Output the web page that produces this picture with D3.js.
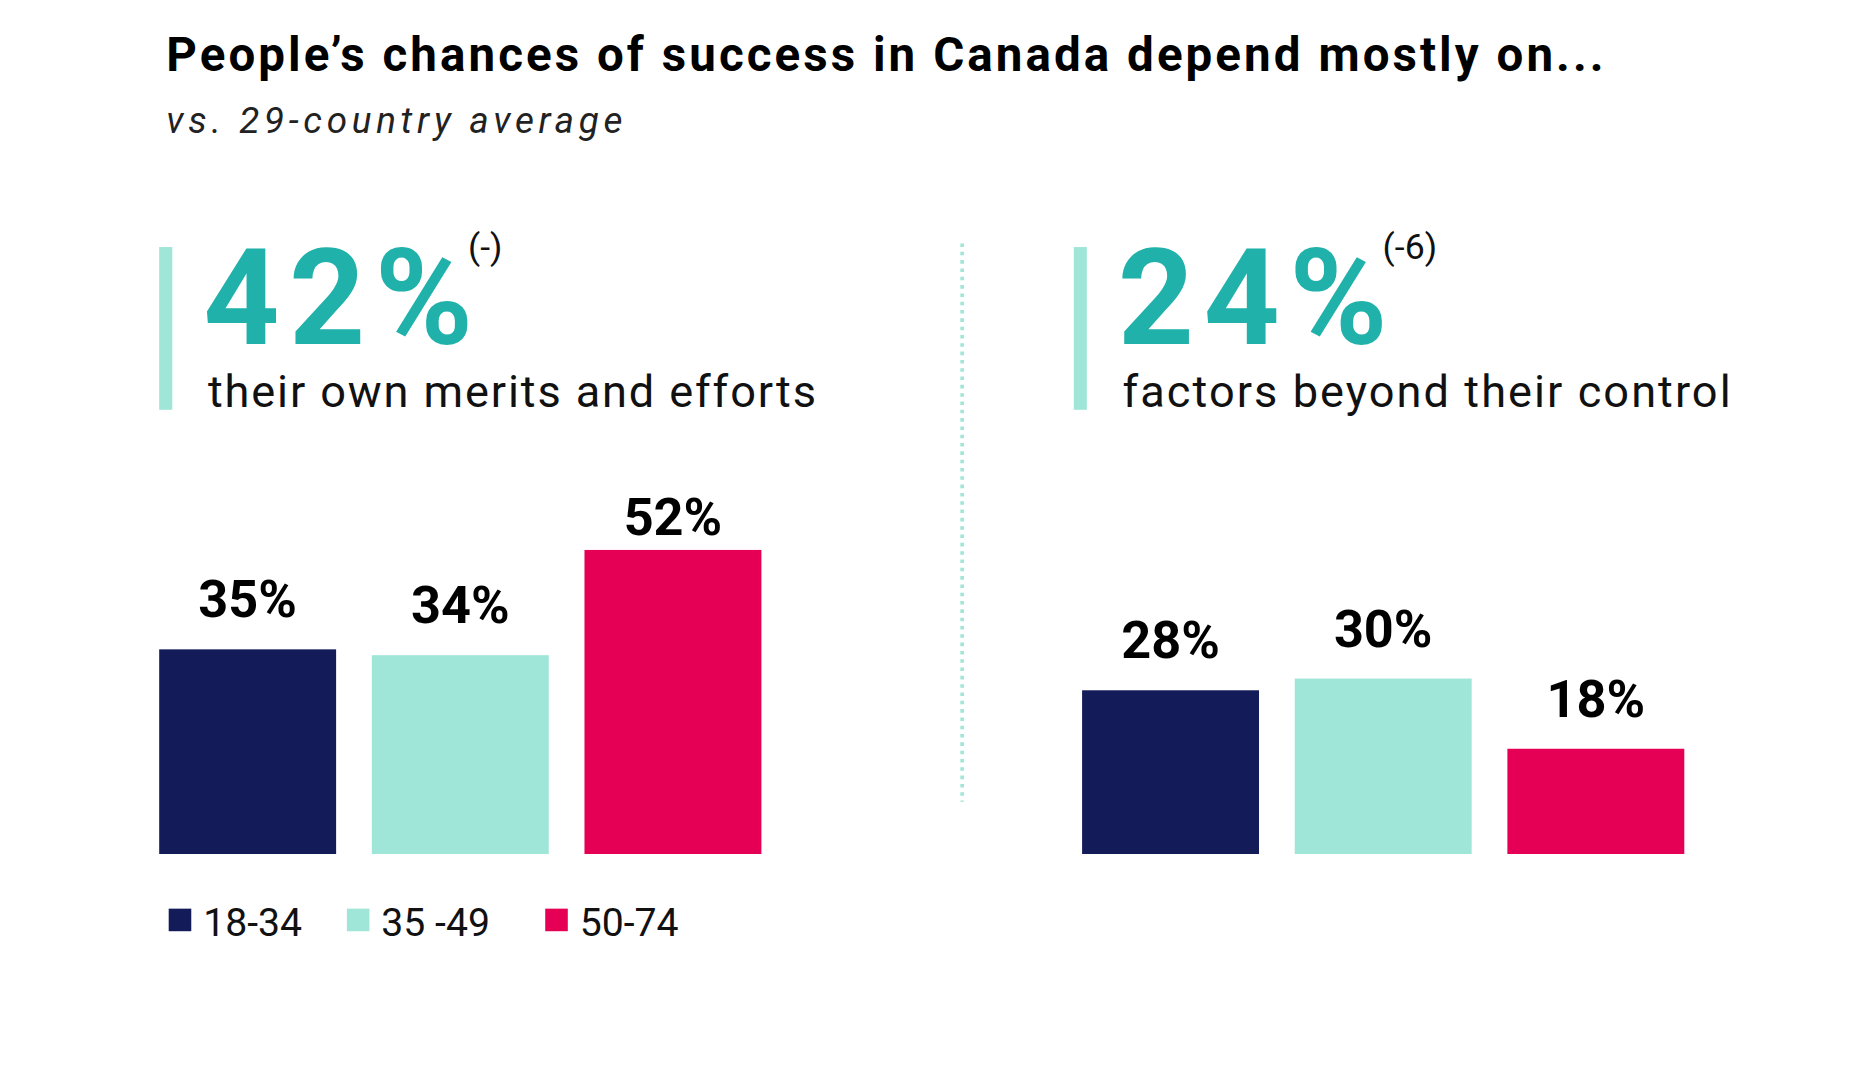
<!DOCTYPE html><html><head><meta charset="utf-8">
<script src="https://cdn.jsdelivr.net/npm/d3@7"></script>
<style>body{margin:0;background:#fff}</style></head><body>
<script>
const groups = ["18-34","35 -49","50-74"];
const colors = ["#131b58","#9fe5d8","#e50056"];
const meritsValues = [35,34,52];
const controlValues = [28,30,18];
const headlines = ["42%","24%"];
const headlineDiff = ["(-)","(-6)"];
const headlineLabels = ["their own merits and efforts","factors beyond their control"];

const svg = d3.select("body").append("svg").attr("width",1853).attr("height",1069)
  .attr("viewBox","0 0 1560 900");
const F = "Roboto, 'Noto Sans', sans-serif";
svg.append("text").attr("x",140).attr("y",60).attr("font-family",F).attr("font-weight",700)
  .attr("font-size",40).attr("fill","#000").attr("textLength",1210).text("People’s chances of success in Canada depend mostly on...");
svg.append("text").attr("x",140).attr("y",112).attr("font-family",F).attr("font-style","italic")
  .attr("font-size",31).attr("fill","#222").attr("textLength",384).text("vs. 29-country average");

svg.append("line").attr("x1",810).attr("x2",810).attr("y1",205).attr("y2",675)
  .attr("stroke","#9fe5d8").attr("stroke-width",3).attr("stroke-dasharray","3,4");

const y = d3.scaleLinear().domain([0,52]).range([719,463]);
const panels = [{a:134, x0:134, vals:meritsValues, lw:512},{a:904, x0:911, vals:controlValues, lw:512}];
panels.forEach((p,i)=>{
  const g = svg.append("g");
  g.append("rect").attr("x",p.a).attr("y",208).attr("width",11).attr("height",137).attr("fill","#9fe5d8");
  g.append("text").attr("x",p.a+37).attr("y",290).attr("font-family",F).attr("font-weight",700)
    .attr("font-size",112).attr("fill","#20b2aa").attr("letter-spacing",8).text(headlines[i]);
  g.append("text").attr("x",p.a+260).attr("y",218).attr("font-family",F).attr("font-size",30)
    .attr("fill","#111").text(headlineDiff[i]);
  g.append("text").attr("x",p.a+41).attr("y",343).attr("font-family",F).attr("font-size",38)
    .attr("fill","#111").attr("textLength",p.lw).text(headlineLabels[i]);
  const x = d3.scaleBand().domain(groups).range([p.x0, p.x0+507]).paddingInner(0.168).paddingOuter(0);
  g.selectAll("rect.bar").data(p.vals).join("rect").attr("class","bar")
    .attr("x",(d,j)=>x(groups[j])).attr("width",x.bandwidth())
    .attr("y",d=>y(d)).attr("height",d=>y(0)-y(d)).attr("fill",(d,j)=>colors[j]);
  g.selectAll("text.lab").data(p.vals).join("text").attr("class","lab")
    .attr("x",(d,j)=>x(groups[j])+x.bandwidth()/2).attr("y",d=>y(d)-(d===52?13:27))
    .attr("text-anchor","middle").attr("font-family",F).attr("font-weight",700)
    .attr("font-size",44).attr("fill","#000").text(d=>d+"%");
});

const lx = [142,292,459];
groups.forEach((gname,j)=>{
  svg.append("rect").attr("x",lx[j]).attr("y",765).attr("width",19).attr("height",19).attr("fill",colors[j]);
  svg.append("text").attr("x",lx[j]+29).attr("y",788).attr("font-family",F).attr("font-size",33)
    .attr("fill","#111").text(gname);
});
</script></body></html>
